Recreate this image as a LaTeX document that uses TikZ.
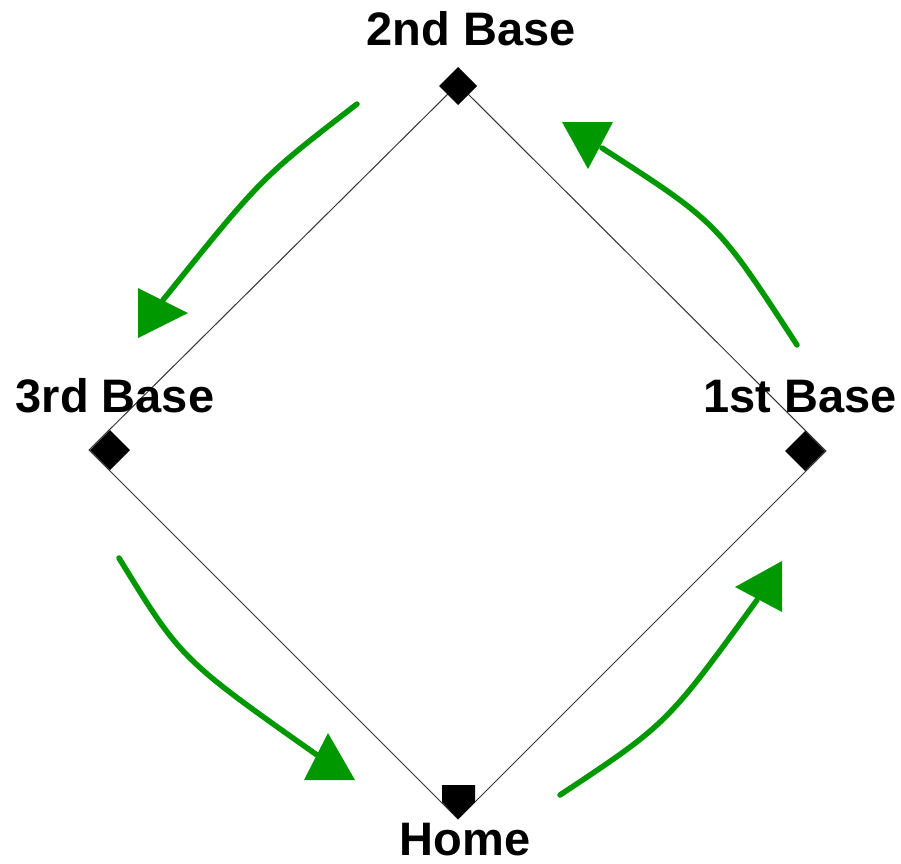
\documentclass[tikz,border=0pt]{standalone}
\usepackage{fontspec}
\setmainfont{Liberation Sans}
\definecolor{rungreen}{RGB}{0,152,0}
\begin{document}
\begin{tikzpicture}[x=1pt,y=-1pt,
  fieldline/.style={draw=black!80,line width=1pt},
  basemark/.style={fill=black,draw=none},
  runpath/.style={draw=rungreen,line width=5.5pt,line cap=round,line join=round},
  runhead/.style={fill=rungreen,draw=none},
  baselabel/.style={font=\bfseries\fontsize{47}{56}\selectfont,anchor=base,inner sep=0pt}]
\useasboundingbox (0,0) rectangle (901,863);
% field corners
\coordinate (c2) at (458,84);
\coordinate (c3) at (89,450);
\coordinate (ch) at (458,819);
\coordinate (c1) at (826,451);
\draw[fieldline] (c2) -- (c3) -- (ch) -- (c1) -- cycle;
% bases
\fill[basemark] (458,67) -- (477,86) -- (458,105) -- (439,86) -- cycle;
\fill[basemark] (110,430) -- (130,450) -- (110,470) -- (90,450) -- cycle;
\fill[basemark] (805,431) -- (825,451) -- (805,471) -- (785,451) -- cycle;
\fill[basemark] (442,785) -- (475,785) -- (475,802) -- (458,819) -- (442,802) -- cycle;
% labels
\node[baselabel] (l2) at (471,45) {2nd Base};
\node[baselabel] (l3) at (115,412) {3rd Base};
\node[baselabel] (l1) at (800,412) {1st Base};
\node[baselabel] (lh) at (465,855) {Home};
% running arrows
\coordinate (a1s) at (357,104); \coordinate (a1e) at (163,300);
\coordinate (a2s) at (119,558); \coordinate (a2e) at (317,755);
\coordinate (a3s) at (797,345); \coordinate (a3e) at (602,148);
\coordinate (a4s) at (560,795); \coordinate (a4e) at (757,600);
\draw[runpath] (a1s) .. controls (261,178) .. (a1e);
\fill[runhead] (138,288) -- (188,313) -- (138,338) -- cycle;
\draw[runpath] (a2s) .. controls (181,659) .. (a2e);
\fill[runhead] (328,733) -- (355,780) -- (304,780) -- cycle;
\draw[runpath] (a3s) .. controls (717,222) .. (a3e);
\fill[runhead] (562,122) -- (613,122) -- (588,169) -- cycle;
\draw[runpath] (a4s) .. controls (667,724) .. (a4e);
\fill[runhead] (782,561) -- (782,612) -- (735,587) -- cycle;
\end{tikzpicture}
\end{document}
